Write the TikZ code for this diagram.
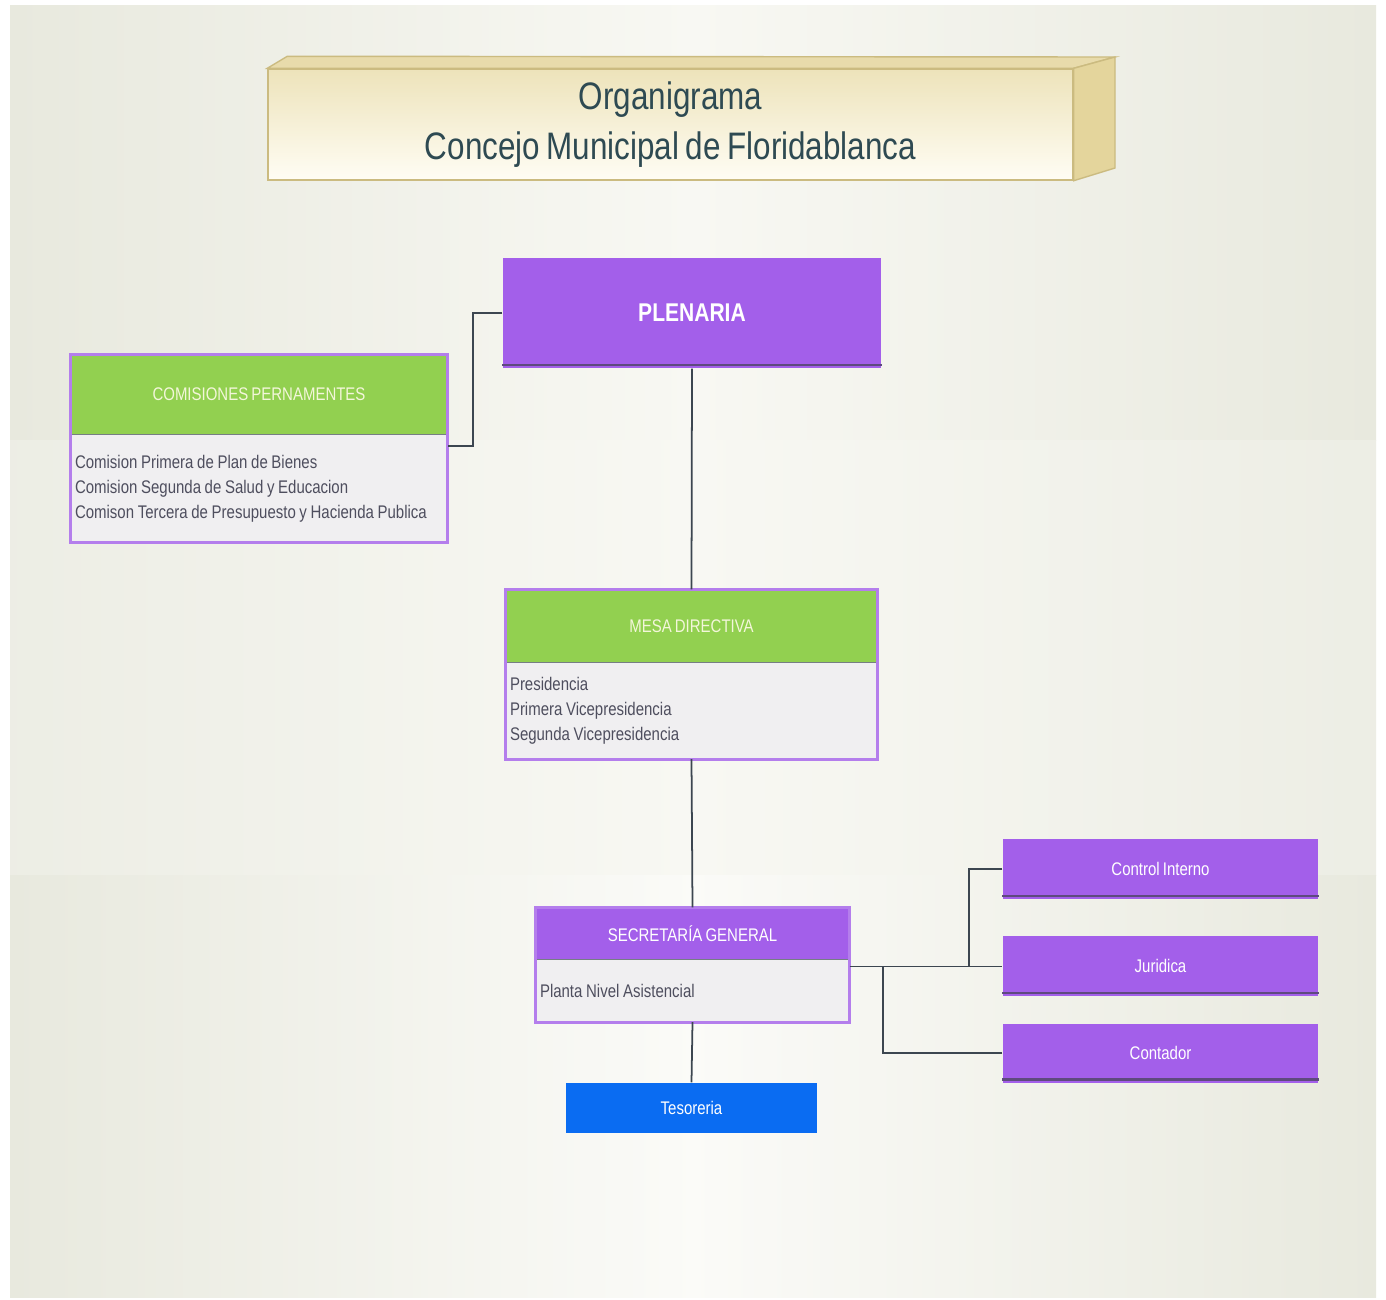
\documentclass[tikz,border=0pt]{standalone}
\usepackage{fontspec}
\newfontfamily\narrowsans{Liberation Sans}[FakeStretch=0.82, WordSpace=0.75]
\usepackage{xcolor}
\usepackage{tikz}
\usetikzlibrary{positioning}

\definecolor{bgside}{HTML}{E8E9DE}
\definecolor{bgmid}{HTML}{F8F8F3}
\definecolor{violeta}{HTML}{A35FEA}
\definecolor{violetaline}{HTML}{B47EEC}
\definecolor{violetadark}{HTML}{5E4A7E}
\definecolor{verde}{HTML}{92D050}
\definecolor{gris}{HTML}{F0EFF1}
\definecolor{azul}{HTML}{0A6CF2}
\definecolor{linea}{HTML}{3C4650}
\definecolor{titulo}{HTML}{2E4A52}
\definecolor{beigetop}{HTML}{EDE3BA}
\definecolor{beigebot}{HTML}{FFFDF4}
\definecolor{beigeside}{HTML}{E4D59C}
\definecolor{beigeline}{HTML}{CBBB80}
\definecolor{textogris}{HTML}{4E4E5E}
\definecolor{textoclaro}{HTML}{F3F6DA}

\begin{document}
\begin{tikzpicture}[>=latex,
	every node/.style={font=\narrowsans\fontsize{5.2}{7.1}\selectfont, inner sep=0pt},
	purplebox/.style={rectangle, fill=violeta, text=white, minimum width=3.15cm, minimum height=0.6cm},
	greenhdr/.style={rectangle, fill=verde, text=textoclaro},
	listbody/.style={rectangle, fill=gris, text=textogris, align=left, inner xsep=0.04cm,
		execute at begin node={\spaceskip=0.2em\relax}},
	boxframe/.style={draw=violetaline, line width=0.8pt},
	hdrline/.style={draw=linea!70, line width=0.4pt},
	link/.style={draw=linea, line width=0.5pt}
]
	\useasboundingbox (0,0) rectangle (13.86,-12.99);

	% Background
	\fill[white] (0,0) rectangle (13.86,-12.99);
	\shade[left color=bgside, right color=bgside, middle color=bgmid] (0.10,-0.05) rectangle (13.76,-4.40);
	\shade[left color=bgside!80!white, right color=bgside!80!white, middle color=bgmid] (0.10,-4.40) rectangle (13.76,-8.75);
	\shade[left color=bgside, right color=bgside, middle color=bgmid!60!white] (0.10,-8.75) rectangle (13.76,-12.97);

	% Title
	\node[draw=beigeline, line width=0.4pt, top color=beigetop, bottom color=beigebot,
		minimum width=8.05cm, minimum height=1.11cm, align=center, text=titulo,
		font=\narrowsans\fontsize{10.9}{14.2}\selectfont] (titulo) at (6.705,-1.245)
		{Organigrama\\Concejo Municipal de Floridablanca};
	\filldraw[fill=beigeside!85!white, draw=beigeline, line width=0.4pt] (titulo.north west) -- ++(0.20,0.12) -- (11.15,-0.57) -- (titulo.north east) -- cycle;
	\filldraw[fill=beigeside, draw=beigeline, line width=0.4pt] (titulo.north east) -- (11.15,-0.57) -- (11.15,-1.68) -- (titulo.south east) -- cycle;

	% Nodes
	\node[purplebox, minimum width=3.78cm, minimum height=1.10cm, font=\narrowsans\bfseries\fontsize{7.3}{9}\selectfont] (plen) at (6.92,-3.13) {PLENARIA};

	\node[greenhdr, minimum width=3.76cm, minimum height=0.79cm] (comhdr) at (2.59,-3.945) {COMISIONES PERNAMENTES};
	\node[listbody, text width=3.68cm, minimum height=1.06cm, below=0pt of comhdr] (combody) {Comision Primera de Plan de Bienes\\Comision Segunda de Salud y Educacion\\Comison Tercera de Presupuesto y Hacienda Publica};

	\node[greenhdr, minimum width=3.71cm, minimum height=0.72cm] (mesahdr) at (6.915,-6.26) {MESA DIRECTIVA};
	\node[listbody, text width=3.63cm, minimum height=0.95cm, below=0pt of mesahdr] (mesabody) {Presidencia\\Primera Vicepresidencia\\Segunda Vicepresidencia};

	\node[purplebox, minimum width=3.13cm, minimum height=0.51cm] (sechdr) at (6.925,-9.335) {SECRETARÍA GENERAL};
	\node[listbody, text width=3.05cm, minimum height=0.61cm, below=0pt of sechdr] (secbody) {Planta Nivel Asistencial};

	\node[purplebox, fill=azul, minimum width=2.51cm, minimum height=0.50cm] (teso) at (6.915,-11.08) {Tesoreria};

	\node[purplebox] (ctrl) at (11.605,-8.69) {Control Interno};
	\node[purplebox, below=0.36cm of ctrl] (jur) {Juridica};
	\node[purplebox, minimum height=0.59cm, below=0.26cm of jur] (cont) {Contador};

	% Frames
	\foreach \h/\b in {comhdr/combody, mesahdr/mesabody, sechdr/secbody} {
		\draw[hdrline] (\h.south west) -- (\h.south east);
		\draw[boxframe] (\h.north west) rectangle (\b.south east);
	}
	\foreach \n in {plen, ctrl, jur, cont}
		\draw[violetadark, line width=0.6pt] ([yshift=0.04cm]\n.south west) -- ([yshift=0.04cm]\n.south east);

	% Connectors
	\draw[link] (plen.west) -- ++(-0.29,0) |- ([yshift=-0.11cm]combody.north east);
	\draw[link] (plen.south) -- (mesahdr.north);
	\draw[link] (mesabody.south) -- (sechdr.north);
	\draw[link] (secbody.south) -- (teso.north);
	\draw[link] (secbody.east |- jur.west) -- (jur.west);
	\draw[link] (ctrl.west) -- ++(-0.33,0) |- (jur.west);
	\draw[link] (cont.west) -- ++(-1.19,0) |- (jur.west);
\end{tikzpicture}
\end{document}
